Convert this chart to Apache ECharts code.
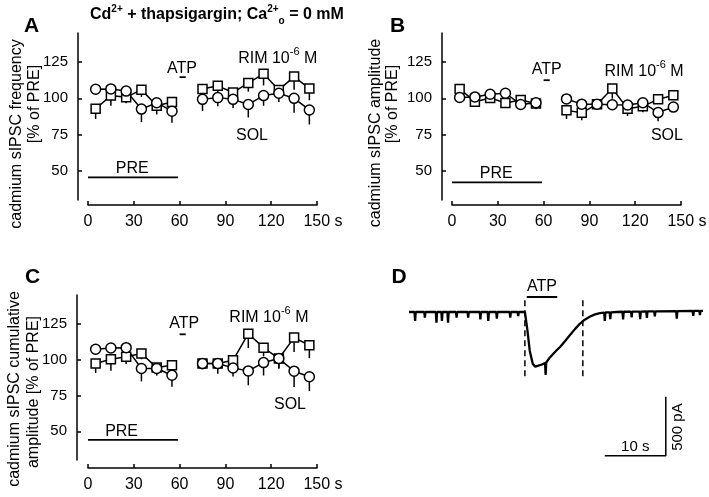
<!DOCTYPE html>
<html><head><meta charset="utf-8">
<script src="https://cdn.jsdelivr.net/npm/echarts@6/dist/echarts.min.js"></script>
<style>html,body{margin:0;padding:0;background:#fff}#c{width:709px;height:497px}</style>
</head><body><div id="c"></div>
<script>
const FONT = '"Liberation Sans", Arial, sans-serif';

// ---- data ----
const times = [5, 15, 25, 35, 45, 55, 75, 85, 95, 105, 115, 125, 135, 145];
const xTicks = [0, 30, 60, 90, 120, 150];
const yTicks = [50, 75, 100, 125];

// A: frequency
const freqSol    = [106.3, 106.5, 105.0, 92.6, 97.0, 91.2, 99.3, 100.5, 99.3, 95.8, 101.9, 103.5, 100.0, 92.0];
const freqSolErr = [3, 3, 3, 9, 4, 8, 8, 6, 6, 9, 7, 6, 10, 10];
const freqRim    = [92.8, 101.9, 100.7, 106.0, 94.9, 97.5, 106.5, 108.6, 104.0, 110.6, 116.9, 105.8, 115.0, 106.7];
const freqRimErr = [7, 7, 4, 5, 6, 4, 5, 5, 7, 6, 8, 5, 9, 8];

// B: amplitude
const ampSol    = [100.6, 101.0, 102.8, 103.5, 95.8, 97.0, 99.6, 96.0, 96.0, 95.6, 95.4, 97.0, 90.2, 94.0];
const ampSolErr = [3, 3, 3, 3, 3, 3, 3, 3, 3, 3, 3, 3, 6, 3];
const ampRim    = [106.5, 97.7, 100.3, 96.8, 98.8, 96.5, 91.8, 90.0, 96.0, 106.8, 92.9, 94.5, 99.3, 102.2];
const ampRimErr = [3, 3, 3, 3, 3, 4, 6, 5, 4, 7, 5, 4, 3, 3];

// C: cumulative amplitude
const cumSol    = [107.2, 108.1, 108.3, 93.8, 93.8, 89.1, 97.2, 97.2, 94.2, 92.1, 97.9, 100.7, 91.9, 88.0];
const cumSolErr = [3, 3, 3, 9, 5, 8, 4, 4, 6, 10, 9, 7, 11, 10];
const cumRim    = [97.2, 100.2, 101.9, 104.2, 94.4, 96.1, 97.2, 97.2, 99.5, 118.0, 108.3, 100.7, 115.3, 110.0];
const cumRimErr = [6.5, 8, 5, 4, 5, 4, 3, 7, 4, 10, 6, 7, 10, 9];

// D: current trace (s, pA)
const traceTime = [0, 0.9,1.0,1.1, 2.5,2.6,2.7, 4.4,4.5,4.6, 5.3,5.4,5.5, 6.3,6.4,6.5, 7.7,7.8,7.9, 9.6,9.7,9.8,
  11.6,11.7,11.8, 12.9,13.0,13.1, 14.3,14.4,14.5, 16.5,16.6,16.7, 17.8,17.9,18.0, 19.0, 19.4, 19.8, 20.3, 20.7,
  21.2, 21.8, 22.3,22.4,22.5, 23.1, 24.0, 24.8, 25.6, 26.4, 27.2, 28.0, 28.8, 29.7, 30.5, 31.3, 32.0,32.1,32.2,
  32.9,33.0,33.1, 34.1, 35.0,35.1,35.2, 36.4,36.5,36.6, 37.8,37.9,38.0, 38.9,39.0,39.1, 40.2,40.3,40.4,
  43.8,43.9,44.0, 46.5,46.6,46.7, 47.6,47.7,47.8, 48.2];
const traceCurrent = [0, 0,-76,0, 0,-48,0, 0,-90,0, 0,-76,0, 0,-90,0, 0,-48,0, 0,-48,0,
  0,-62,0, 0,-76,0, 0,-56,0, 0,-48,0, 0,-34,0, 0, -150, -330, -440, -463,
  -455, -445, -432,-534,-428, -385, -335, -294, -245, -195, -145, -100, -65, -38, -20, -10, -5,-76,-4,
  -3,-60,-3, 0, 2,-63,2, 3,-45,3, 4,-61,4, 5,-51,5, 6,-36,6,
  8,-57,8, 10,-32,10, 10,-27,10, 10];

// annotation bars
const preBar = [0, 59];
const atpBar = [60, 64];
const dAtpBar = [19.3, 24.3];
const dDashes = [19.0, 28.5];
const scaleTime = 10;     // s
const scaleCurrent = 500; // pA

// ---- helpers ----
const black = '#000';
function lineSeries(gi, ys, symbol, size) {
  const data = [];
  times.forEach((x, i) => {
    if (i > 0 && x - times[i - 1] > 10) data.push([(x + times[i - 1]) / 2, '-']);
    data.push([x, ys[i]]);
  });
  return { type: 'line', xAxisIndex: gi, yAxisIndex: gi, data, symbol, symbolSize: size,
    showSymbol: true, connectNulls: false, silent: true, z: 4,
    lineStyle: { color: black, width: 1.5 },
    itemStyle: { color: '#fff', borderColor: black, borderWidth: 1.5 } };
}
function errSeries(gi, ys, es) {
  return { type: 'custom', xAxisIndex: gi, yAxisIndex: gi, silent: true, z: 3,
    data: times.map((x, i) => [x, ys[i], es[i]]),
    renderItem: (p, api) => {
      const a = api.coord([api.value(0), api.value(1)]);
      const b = api.coord([api.value(0), api.value(1) - api.value(2)]);
      return { type: 'line', shape: { x1: a[0], y1: a[1], x2: b[0], y2: b[1] },
        style: { stroke: black, lineWidth: 1.5 } };
    } };
}
function segSeries(gi, pts, width, dashed) {
  return { type: 'line', xAxisIndex: gi, yAxisIndex: gi, data: pts, symbol: 'none', silent: true, z: 4,
    lineStyle: { color: black, width, type: dashed ? [6, 4] : 'solid' } };
}
const rich = {
  t: { fontSize: 16, fontFamily: FONT, color: black, lineHeight: 20, verticalAlign: 'bottom' },
  s: { fontSize: 11, fontFamily: FONT, color: black, lineHeight: 11, verticalAlign: 'top' }
};
function textSeries(gi, items) {
  return { type: 'scatter', xAxisIndex: gi, yAxisIndex: gi, symbolSize: 0, silent: true, z: 6,
    itemStyle: { color: black, opacity: 1 },
    data: items.map(it => ({ value: [it.x, it.y],
      label: { show: true, position: 'inside', formatter: it.t, rotate: it.r || 0,
        fontSize: it.fs || 16, fontFamily: FONT, color: black, opacity: 1,
        textBorderWidth: 0, textShadowBlur: 0, rich } })) };
}
function panelSeries(gi, sol, solErr, rim, rimErr, ann) {
  return [
    errSeries(gi, sol, solErr), errSeries(gi, rim, rimErr),
    lineSeries(gi, rim, 'rect', 9), lineSeries(gi, sol, 'circle', 10),
    segSeries(gi, [[preBar[0], ann.preY], [preBar[1], ann.preY]], 1.8),
    segSeries(gi, [[atpBar[0], ann.atpY], [atpBar[1], ann.atpY]], 1.8),
    textSeries(gi, [
      { x: ann.preTx, y: ann.preTy, t: 'PRE' },
      { x: ann.atpTx, y: ann.atpTy, t: 'ATP' },
      { x: ann.rimX, y: ann.rimY, t: '{t|RIM 10}{s|-6}{t| M}' },
      { x: ann.solX, y: ann.solY, t: 'SOL' }
    ])
  ];
}

const grids = [
  { left: 88, top: 33, width: 229, height: 167 },
  { left: 452, top: 33, width: 229, height: 167 },
  { left: 88, top: 295, width: 229, height: 165 },
  { left: 409, top: 282.5, width: 294, height: 182.9 }
];
function xAx(gi, off) {
  return { type: 'value', gridIndex: gi, min: 0, max: 150, interval: 30, offset: off,
    axisLine: { show: true, lineStyle: { color: black, width: 1.5 } },
    axisTick: { show: true, inside: true, length: 4, lineStyle: { color: black, width: 1.5 } },
    axisLabel: { color: black, fontSize: 16, fontFamily: FONT, margin: 9,
      formatter: v => v === 150 ? '{p|}150 s' : String(v),
      rich: { p: { width: 12 } } },
    splitLine: { show: false } };
}
function yAx(gi, off) {
  return { type: 'value', gridIndex: gi, min: 30, max: 145, offset: off,
    axisLine: { show: true, onZero: false, lineStyle: { color: black, width: 1.5 } },
    axisTick: { show: true, inside: true, length: 4, customValues: yTicks, lineStyle: { color: black, width: 1.5 } },
    axisLabel: { color: black, fontSize: 15, fontFamily: FONT, margin: 10, customValues: yTicks },
    splitLine: { show: false } };
}

function gtext(x, y, text, opts) {
  return Object.assign({ type: 'text', x, y, silent: true,
    style: Object.assign({ text, fontSize: 16, fontFamily: FONT, fill: black, align: 'center', verticalAlign: 'middle' }, opts.style || {}) },
    opts.el || {});
}
const rot = { el: { rotation: Math.PI / 2 } };

const option = {
  animation: false,
  backgroundColor: '#fff',
  grid: grids.map(g => Object.assign({ outerBoundsMode: 'none', containLabel: false }, g)),
  xAxis: [xAx(0, 5), xAx(1, 5), xAx(2, 8),
    { type: 'value', gridIndex: 3, min: 0, max: 48.2, show: false }],
  yAxis: [yAx(0, 10), yAx(1, 10), yAx(2, 11),
    { type: 'value', gridIndex: 3, min: -1300, max: 250, show: false }],
  series: [].concat(
    panelSeries(0, freqSol, freqSolErr, freqRim, freqRimErr,
      { preY: 45.6, atpY: 114.6, preTx: 29, preTy: 51.5, atpTx: 61.5, atpTy: 120.8, rimX: 124.3, rimY: 128.9, solX: 107.4, solY: 74.5 }),
    panelSeries(1, ampSol, ampSolErr, ampRim, ampRimErr,
      { preY: 42.1, atpY: 112.5, preTx: 29, preTy: 48, atpTx: 62, atpTy: 119.7, rimX: 125.8, rimY: 119.7, solX: 140.8, solY: 74.5 }),
    panelSeries(2, cumSol, cumSolErr, cumRim, cumRimErr,
      { preY: 44, atpY: 117.6, preTx: 22, preTy: 50, atpTx: 63, atpTy: 125, rimX: 118.5, rimY: 130.8, solX: 132.3, solY: 68.8 }),
    [
      { type: 'line', xAxisIndex: 3, yAxisIndex: 3, symbol: 'none', silent: true, z: 4,
        data: traceTime.map((t, i) => [t, traceCurrent[i]]),
        lineStyle: { color: black, width: 2.3 } },
      segSeries(3, [[dDashes[0], 100], [dDashes[0], -551]], 1.5, true),
      segSeries(3, [[dDashes[1], 100], [dDashes[1], -551]], 1.5, true),
      segSeries(3, [[dAtpBar[0], 127], [dAtpBar[1], 127]], 1.8),
      segSeries(3, [[42.1 - scaleTime, -1218], [42.1, -1218], [42.1, -1218 + scaleCurrent]], 1.5),
      textSeries(3, [
        { x: 21.8, y: 212, t: 'ATP' },
        { x: 37.1, y: -1144, t: '10 s', fs: 15 },
        { x: 44.0, y: -975, t: '500 pA', fs: 15, r: 90 }
      ])
    ]
  ),
  graphic: [
    gtext(31.5, 26, 'A', { style: { fontSize: 21, fontWeight: 'bold' } }),
    gtext(397.5, 26, 'B', { style: { fontSize: 21, fontWeight: 'bold' } }),
    gtext(32.5, 277, 'C', { style: { fontSize: 21, fontWeight: 'bold' } }),
    gtext(399, 277, 'D', { style: { fontSize: 21, fontWeight: 'bold' } }),
    { type: 'text', x: 90, y: 15, silent: true,
      style: { text: '{b|Cd}{u|2+}{b| + thapsigargin; Ca}{u|2+}{d|o}{b| = 0 mM}', align: 'left', verticalAlign: 'middle',
        rich: {
          b: { fontSize: 16, fontWeight: 'bold', fontFamily: FONT, color: black, lineHeight: 22, verticalAlign: 'middle' },
          u: { fontSize: 10, fontWeight: 'bold', fontFamily: FONT, color: black, lineHeight: 10, verticalAlign: 'top' },
          d: { fontSize: 10, fontWeight: 'bold', fontFamily: FONT, color: black, lineHeight: 10, verticalAlign: 'bottom' }
        } } },
    gtext(17, 134, 'cadmium sIPSC frequency', rot),
    gtext(35, 104, '[% of PRE]', rot),
    gtext(376, 133, 'cadmium sIPSC amplitude', rot),
    gtext(393, 104, '[% of PRE]', rot),
    gtext(15, 389, 'cadmium sIPSC cumulative', rot),
    gtext(34, 392, 'amplitude [% of PRE]', rot)
  ]
};
const chart = echarts.init(document.getElementById('c'), null, { renderer: 'canvas' });
chart.setOption(option);
</script></body></html>
